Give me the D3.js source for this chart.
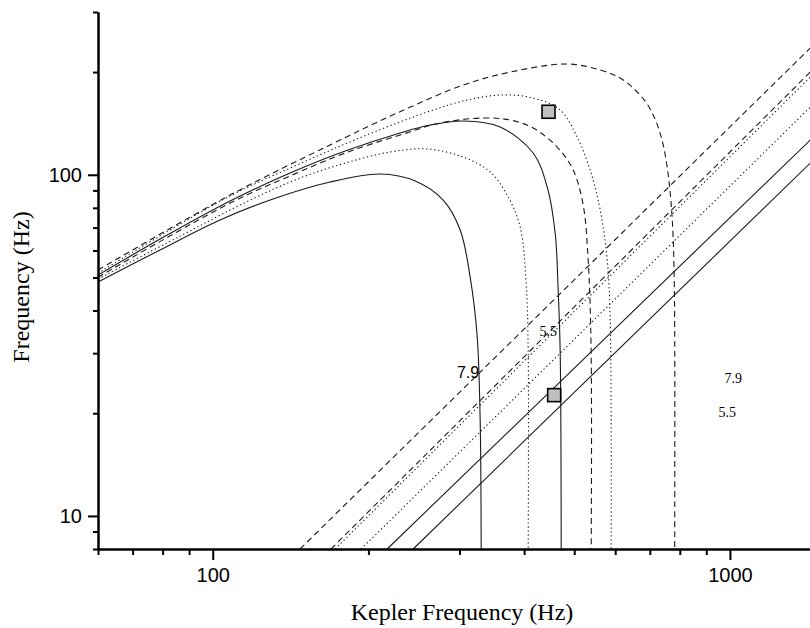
<!DOCTYPE html>
<html>
<head>
<meta charset="UTF-8">
<script src="https://d3js.org/d3.v7.min.js"></script>
<style>
    body { margin: 0; background: #fff; }
    .axis path, .axis line { stroke: #000; stroke-width: 2px; }
    .axis text { font-family: "Liberation Sans", Arial, sans-serif; font-size: 20px; fill: #000; }
    .title { font-family: "Liberation Serif", "Times New Roman", serif; font-size: 24px; fill: #000; }
    .curve { fill: none; stroke: #1a1a1a; stroke-width: 1.1px; }
</style>
</head>
<body>
<svg id="chart"></svg>
<script>
// axis ticks
const xTicksMajor = [100, 1000];
const xTicksMinor = [60, 70, 80, 90, 200, 300, 400, 500, 600, 700, 800, 900];
const yTicksMajor = [10, 100];
const yTicksMinor = [8, 9, 20, 30, 40, 50, 60, 70, 80, 90, 200, 300];

// upper curves [kepler Hz, freq Hz]
const solidLow = [[60,48.5],[79.1,60.2],[103.3,73.7],[130.8,84.9],[168.6,95.2],[210.7,100.5],[246.3,95.9],[279.0,84.3],[300.9,68.9],[314.6,50.1],[324.6,33.5],[328.9,19.1],[330.4,8]];
const dottedLow = [[60,49.5],[86.5,66.1],[118.1,84.3],[147.5,97.8],[180.3,108.2],[220.3,116.6],[259.8,119.0],[304.9,112.7],[343.9,101.9],[370.9,87.2],[393.0,70.3],[403.6,48.2],[407.3,30.6],[407.3,8]];
const solidHigh = [[60,50.8],[79.1,64.8],[108.0,83.8],[141.1,101.2],[180.3,117.4],[230.3,132.6],[263.3,139.9],[304.9,143.7],[359.5,138.0],[416.4,115.8],[443.3,92.1],[459.3,67.5],[465.5,45.9],[469.6,30.6],[471.8,8]];
const dashedLow = [[60,50.1],[108.0,82.6],[141.1,99.2],[180.3,115.8],[230.3,130.8],[275.3,141.8],[333.3,146.7],[375.9,144.7],[416.4,137.1],[463.4,120.6],[497.7,103.2],[520.3,81.5],[532.0,56.2],[539.0,30.6],[539.2,8]];
const dottedHigh = [[60,51.5],[108.0,86.7],[141.1,104.6],[180.3,123.1],[227.2,141.8],[266.8,154.8],[304.9,164.5],[359.5,171.3],[416.4,167.9],[469.6,154.8],[506.6,129.0],[536.8,103.2],[561.3,78.8],[579.1,56.2],[586.9,37.5],[589.3,8]];
const dashedHigh = [[60,52.6],[108.0,87.2],[168.6,122.3],[227.2,151.7],[304.9,183.2],[375.9,200.0],[484.6,211.2],[561.3,202.8],[613.5,192.1],[656.0,177.2],[691.9,161.2],[720.4,142.7],[743.0,122.3],[759.9,99.8],[770.1,81.5],[777.0,64.4],[780.4,49.1],[782.1,35.1],[782.1,8]];

// straight lines [start, end]
const lineDashedA = [[147.5,8],[1430,235.2]];
const lineDashedB = [[169.3,8],[1430,200.0]];
const lineDottedB = [[172.4,8],[1430,193.4]];
const lineDottedA = [[193.6,8],[1430,157.9]];
const lineSolidA = [[217.4,8],[1430,126.4]];
const lineSolidB = [[244.1,8],[1430,108.2]];

const squares = [[445.9,153],[457.3,22.6]];
const labels = [["7.9",311.7,26.4],["5.5",445.3,34.8],["7.9",1015,25.4],["5.5",988,20.2]];

const width = 810, height = 628;
const svg = d3.select("#chart").attr("width", width).attr("height", height);

const x = d3.scaleLog().domain([60, 1500]).range([98, 821]);
const y = d3.scaleLog().domain([8, 300]).range([549, 12]);

const line = d3.line().x(d => x(d[0])).y(d => y(d[1])).curve(d3.curveCatmullRom.alpha(0.5));
const straight = d3.line().x(d => x(d[0])).y(d => y(d[1]));

const dash = "6,4", dot = "1.3,2.7";
const curves = [
    [solidLow, null], [dottedLow, dot], [solidHigh, null],
    [dashedLow, dash], [dottedHigh, dot], [dashedHigh, dash]
];
curves.forEach(([d, s]) => {
    svg.append("path").attr("class", "curve").attr("d", line(d))
        .attr("stroke-dasharray", s);
});
const lines = [
    [lineDashedA, dash], [lineDashedB, dash], [lineDottedB, dot],
    [lineDottedA, dot], [lineSolidA, null], [lineSolidB, null]
];
lines.forEach(([d, s]) => {
    svg.append("path").attr("class", "curve").attr("d", straight(d))
        .attr("stroke-dasharray", s);
});

svg.selectAll(".sq").data(squares).enter().append("rect")
    .attr("class", "sq")
    .attr("x", d => x(d[0]) - 6.5).attr("y", d => y(d[1]) - 6.5)
    .attr("width", 13).attr("height", 13)
    .attr("fill", "#c0c0c0").attr("stroke", "#000").attr("stroke-width", 1.6);

svg.selectAll(".lbl").data(labels).enter().append("text")
    .attr("class", "lbl")
    .attr("x", d => x(d[1])).attr("y", d => y(d[2]))
    .attr("dy", "0.35em").attr("text-anchor", "middle")
    .attr("font-family", (d, i) => i === 0 ? "Liberation Sans, Arial, sans-serif" : "Liberation Serif, Times New Roman, serif")
    .attr("font-size", (d, i) => i === 0 ? 16 : 14)
    .text(d => d[0]);

// axes
svg.append("g").attr("class", "axis").attr("transform", "translate(98,0)")
    .call(d3.axisLeft(y).tickValues(yTicksMinor).tickSize(5).tickSizeOuter(0).tickFormat(""));
svg.append("g").attr("class", "axis").attr("transform", "translate(98,0)")
    .call(d3.axisLeft(y).tickValues(yTicksMajor).tickSize(10).tickSizeOuter(0).tickPadding(6).tickFormat(d3.format("d")));
svg.append("g").attr("class", "axis").attr("transform", "translate(0,549)")
    .call(d3.axisBottom(x).tickValues(xTicksMinor).tickSize(6).tickSizeOuter(0).tickFormat(""));
svg.append("g").attr("class", "axis").attr("transform", "translate(0,549)")
    .call(d3.axisBottom(x).tickValues(xTicksMajor).tickSize(11).tickSizeOuter(0).tickPadding(8).tickFormat(d3.format("d")));

svg.append("text").attr("class", "title")
    .attr("x", 462).attr("y", 620).attr("text-anchor", "middle")
    .text("Kepler Frequency (Hz)");
svg.append("text").attr("class", "title")
    .attr("transform", "translate(29,287) rotate(-90)").attr("text-anchor", "middle")
    .text("Frequency (Hz)");
</script>
</body>
</html>
